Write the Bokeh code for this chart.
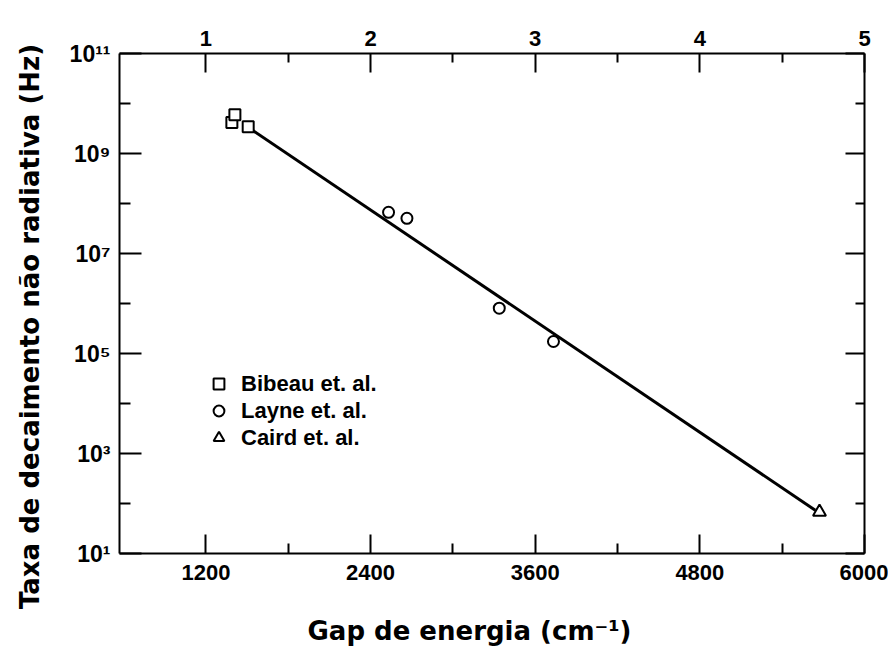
import math
from bokeh.plotting import figure
from bokeh.models import FixedTicker, LinearAxis, LogAxis, Range1d, Legend, LegendItem, Label
from bokeh.embed import file_html
from bokeh.resources import INLINE

# ---- data ----
bibeau_gap = [1389, 1411, 1508]
bibeau_rate = [4.19e9, 5.96e9, 3.43e9]
layne_gap = [2531, 2665, 3338, 3733]
layne_rate = [6.67e7, 5.06e7, 8.05e5, 1.74e5]
caird_gap = [5672]
caird_rate = [67.8]
fit_gap = [1523, 5641]
fit_rate = [3.13e9, 73.3]

x_ticks = [1200, 2400, 3600, 4800, 6000]
x_minor = [1800, 3000, 4200, 5400]
top_ticks = [1, 2, 3, 4, 5]
top_minor = [1.5, 2.5, 3.5, 4.5]
y_ticks = [1e1, 1e3, 1e5, 1e7, 1e9, 1e11]
y_minor = [1e2, 1e4, 1e6, 1e8, 1e10]
y_tick_labels = ["10\u00b9", "10\u00b3", "10\u2075", "10\u2077", "10\u2079", "10\u00b9\u00b9"]
x_start, x_end = 570, 6000
y_start, y_end = 1e1, 1e11
phonon = 1200

x_title = "Gap de energia (cm\u207b\u00b9)"
y_title = "Taxa de decaimento não radiativa (Hz)"

TICK_FONT = "Liberation Sans"
LABEL_FONT = "DejaVu Sans"

p = figure(width=888, height=650, x_range=(x_start, x_end), y_range=(y_start, y_end),
           y_axis_type="log", output_backend="svg", toolbar_location=None,
           min_border_left=119, min_border_right=24, min_border_top=53, min_border_bottom=97)
p.grid.visible = False
p.outline_line_color = None
p.background_fill_color = "white"
p.border_fill_color = "white"

def style(ax, major_in, minor_in):
    ax.axis_line_width = 2
    ax.axis_line_color = "black"
    ax.major_tick_line_width = 2
    ax.minor_tick_line_width = 2
    ax.major_tick_in = major_in
    ax.major_tick_out = 0
    ax.minor_tick_in = minor_in
    ax.minor_tick_out = 0
    ax.major_label_text_font = TICK_FONT
    ax.major_label_text_font_style = "bold"
    ax.major_label_text_font_size = "22px"
    ax.major_label_text_color = "black"

# bottom axis
xb = p.xaxis[0]
xb.ticker = FixedTicker(ticks=x_ticks, minor_ticks=x_minor)
style(xb, 19, 10)
xb.major_label_standoff = 11

# left axis
yl = p.yaxis[0]
yl.ticker = FixedTicker(ticks=y_ticks, minor_ticks=y_minor)
yl.major_label_overrides = {t: s for t, s in zip(y_ticks, y_tick_labels)}
style(yl, 22, 11)
yl.major_label_text_font_size = "23px"
yl.major_label_standoff = 9

# top axis (gap in phonon units)
p.extra_x_ranges = {"top": Range1d(x_start / phonon, x_end / phonon)}
xt = LinearAxis(x_range_name="top", ticker=FixedTicker(ticks=top_ticks, minor_ticks=top_minor))
style(xt, 19, 9)
xt.major_label_standoff = 8
p.add_layout(xt, "above")

# right axis (ticks only)
yr = LogAxis(ticker=FixedTicker(ticks=y_ticks, minor_ticks=y_minor))
style(yr, 19, 9)
yr.major_label_overrides = {t: "" for t in y_ticks}
yr.major_label_standoff = 0
p.add_layout(yr, "right")

# axis titles (in side panels so they are not clipped)
p.add_layout(Label(x=x_start, y=y_start, x_offset=-90, y_offset=227, text=y_title,
                   angle=math.pi / 2, text_align="center", text_baseline="middle",
                   text_font=LABEL_FONT, text_font_style="bold", text_font_size="26px",
                   text_color="black"), "left")
p.add_layout(Label(x=x_start, y=y_start, x_offset=350, y_offset=-77, text=x_title,
                   text_align="center", text_baseline="alphabetic",
                   text_font=LABEL_FONT, text_font_style="bold", text_font_size="26px",
                   text_color="black"), "below")

# fit line
p.line(fit_gap, fit_rate, line_color="black", line_width=3)

# data
r_b = p.scatter(bibeau_gap, bibeau_rate, marker="square", size=11, line_color="black",
                line_width=2, fill_color="white")
r_l = p.scatter(layne_gap, layne_rate, marker="circle", size=11, line_color="black",
                line_width=2, fill_color="white")
r_c = p.scatter(caird_gap, caird_rate, marker="triangle", size=13, line_color="black",
                line_width=2, fill_color="white")

legend = Legend(items=[LegendItem(label="Bibeau et. al.", renderers=[r_b]),
                       LegendItem(label="Layne et. al.", renderers=[r_l]),
                       LegendItem(label="Caird et. al.", renderers=[r_c])],
                location=(86, 102), margin=0, padding=0, spacing=0,
                glyph_width=27, glyph_height=27, label_height=27, label_standoff=9,
                background_fill_alpha=0, border_line_alpha=0,
                label_text_font=TICK_FONT, label_text_font_style="bold",
                label_text_font_size="22px", label_text_color="black")
p.add_layout(legend)

open("out.html", "w").write(file_html(p, INLINE))
